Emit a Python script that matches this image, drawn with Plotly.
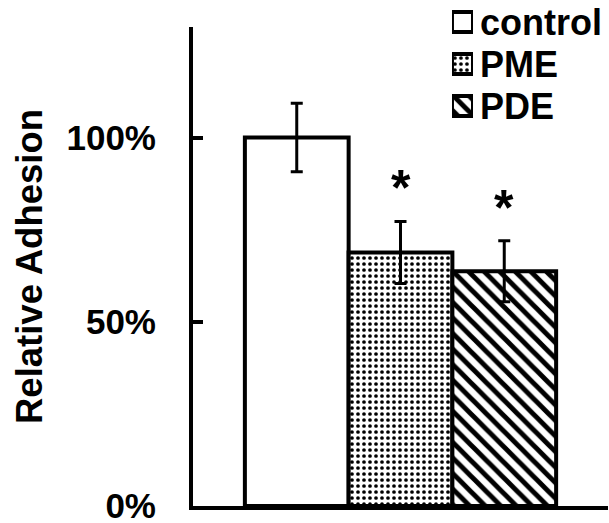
import plotly.graph_objects as go

# ---- data ----
groups = ["control", "PME", "PDE"]
values = [100.0, 68.8, 63.7]
errors = [9.3, 8.4, 8.3]
significant = [False, True, True]
y_tick_vals = [0, 50, 100]
y_tick_text = ["0%", "50%", "100%"]
category = ["Adhesion"]

FONT = "Liberation Sans, Arial, sans-serif"

pat_shape = ["", ".", "\\"]
pat_size = [6, 6, 11]
pat_solid = [0.3, 0.3, 0.45]

fig = go.Figure()
for i, (g, v, e) in enumerate(zip(groups, values, errors)):
    fig.add_trace(go.Bar(
        x=category, y=[v], name=g, showlegend=False,
        marker=dict(color="white", line=dict(color="black", width=4),
                    pattern=dict(shape=pat_shape[i], fgcolor="black", bgcolor="white",
                                 size=pat_size[i], solidity=pat_solid[i], fillmode="replace")),
        error_y=dict(type="data", array=[e], color="black", thickness=3, width=6, visible=True),
        xaxis="x", yaxis="y",
    ))

# legend swatches drawn as small bars on their own axes
fig.add_trace(go.Bar(
    y=groups, x=[1] * len(groups), orientation="h", width=0.48, showlegend=False,
    hoverinfo="skip",
    marker=dict(color="white", line=dict(color="black", width=4),
                pattern=dict(shape=pat_shape, fgcolor="black", bgcolor="white",
                             size=pat_size, solidity=pat_solid, fillmode="replace")),
    xaxis="x2", yaxis="y2",
))

offsets = [-0.25, 0.0, 0.25]
for i, (v, e, s) in enumerate(zip(values, errors, significant)):
    if s:
        fig.add_annotation(x=offsets[i], y=v + e + 9, xref="x", yref="y",
                           text="*", showarrow=False, yanchor="middle",
                           font=dict(family=FONT, size=50, color="black", weight="bold"))

fig.update_layout(
    width=609, height=523,
    margin=dict(l=193, r=1, t=0, b=17, autoexpand=False),
    paper_bgcolor="white", plot_bgcolor="white",
    barmode="group", bargap=0.25, bargroupgap=0,
    font=dict(family=FONT, color="black", weight="bold"),
    showlegend=False,
    xaxis=dict(
        type="category", range=[-0.5, 0.5], showline=True, linecolor="black", linewidth=4,
        showticklabels=False, ticks="inside", tickson="boundaries", ticklen=8, tickwidth=3,
        tickcolor="black", showgrid=False, zeroline=False, anchor="y",
    ),
    yaxis=dict(
        domain=[0, 479 / 506], range=[0, 130], showline=True, linecolor="black", linewidth=4,
        tickvals=y_tick_vals, ticktext=y_tick_text, ticks="inside", ticklen=10, tickwidth=4,
        tickcolor="black", ticklabelstandoff=26, ticklabeloverflow="allow",
        showgrid=False, zeroline=False, anchor="x",
        tickfont=dict(family=FONT, size=35, color="black", weight="bold"),
        title=dict(text="Relative Adhesion", standoff=14,
                   font=dict(family=FONT, size=36.5, color="black", weight="bold")),
    ),
    xaxis2=dict(
        domain=[0.624, 0.6747], range=[0, 1], visible=False, anchor="y2",
    ),
    yaxis2=dict(
        domain=[0.749, 0.998], type="category", categoryorder="array", categoryarray=groups,
        range=[2.5, -0.5], side="right", anchor="x2", showline=False, showgrid=False,
        zeroline=False, ticks="", ticklabelstandoff=6, ticklabeloverflow="allow",
        tickmode="array", tickvals=groups, ticktext=groups,
        tickfont=dict(family=FONT, size=36, color="black", weight="bold"),
    ),
)

fig.write_html("out.html")
